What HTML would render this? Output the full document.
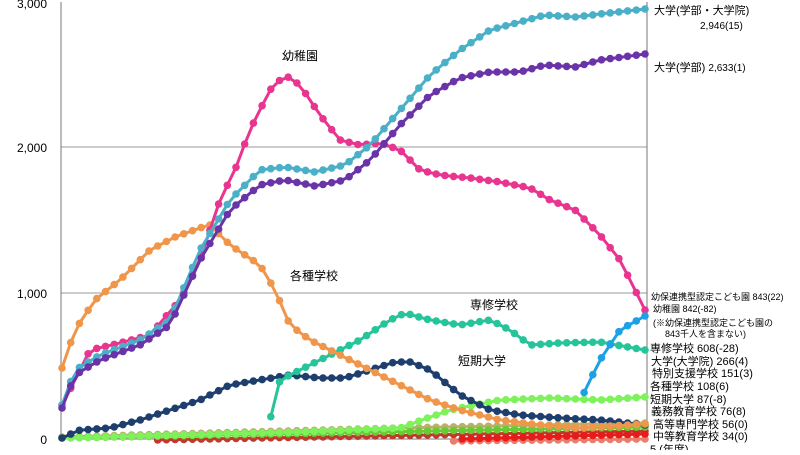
<!DOCTYPE html>
<html><head><meta charset="utf-8"><style>
body{margin:0;background:#fff;width:800px;height:450px;overflow:hidden}
svg text{font-family:"Liberation Sans","Noto Sans CJK JP",sans-serif;fill:#000}
</style></head><body>
<svg id="s" width="800" height="450" xmlns="http://www.w3.org/2000/svg">
<line x1="61" y1="147" x2="647" y2="147" stroke="#999" stroke-width="1"/>
<line x1="61" y1="293" x2="647" y2="293" stroke="#999" stroke-width="1"/>
<line x1="61" y1="2" x2="61" y2="439" stroke="#777"/>
<line x1="647" y1="2" x2="647" y2="439" stroke="#777"/>
<line x1="61" y1="439" x2="647" y2="439" stroke="#777"/>
<g font-size="12" text-anchor="end">
<text x="47" y="8">3,000</text><text x="47" y="152">2,000</text><text x="47" y="298">1,000</text><text x="47" y="444">0</text>
</g>
<g id="series"></g>
<g font-size="12">
<text x="282" y="60">幼稚園</text>
<text x="290" y="280">各種学校</text>
<text x="470" y="309">専修学校</text>
<text x="458" y="365">短期大学</text>
</g>
<g font-size="11">
<text x="654" y="14">大学(学部・大学院)</text>
<text x="700" y="29" font-size="10">2,946(15)</text>
<text x="654" y="71">大学(学部) <tspan font-size="10">2,633(1)</tspan></text>
<text x="651" y="300" font-size="9">幼保連携型認定こども園 843(22)</text>
<text x="653" y="312" font-size="9">幼稚園 842(-82)</text>
<text x="653" y="326" font-size="9">(※幼保連携型認定こども園の</text>
<text x="665" y="337" font-size="9">843千人を含まない)</text>
<text x="650" y="352">専修学校 608(-28)</text>
<text x="651" y="365">大学(大学院) 266(4)</text>
<text x="652" y="377">特別支援学校 151(3)</text>
<text x="650" y="390">各種学校 108(6)</text>
<text x="650" y="403">短期大学 87(-8)</text>
<text x="651" y="415">義務教育学校 76(8)</text>
<text x="653" y="428">高等専門学校 56(0)</text>
<text x="653" y="440">中等教育学校 34(0)</text>
<text x="650" y="453">5 (年度)</text>
</g>
</svg>
<script>
const S=[
["#e87f6c",[[450,441],[645,439]]],
["#c0392b",[[150,440],[645,431]]],
["#e61c1c",[[460,439],[645,434]]],
["#b9b06a",[[62,437],[250,432],[400,428],[645,423]]],
["#66cc33",[[62,438],[645,427]]],
["#7ef25a",[[62,438],[300,432],[400,428],[450,410],[500,400],[550,398],[600,400],[645,397]]],
["#1e3f6e",[[62,438],[80,430],[110,428],[140,420],[170,410],[200,400],[230,385],[260,380],[290,375],[320,378],[345,378],[370,370],[395,362],[410,362],[430,370],[460,395],[490,410],[520,415],[560,418],[600,420],[645,425]]],
["#26c49a",[[270,420],[280,380],[300,370],[330,355],[360,340],[390,320],[405,313],[430,320],[460,325],[490,320],[510,330],[530,345],[560,343],[600,342],[645,350]]],
["#f0964a",[[62,368],[75,330],[95,300],[120,280],[150,250],[175,237],[200,228],[210,225],[230,245],[260,265],[275,290],[290,325],[310,340],[340,355],[370,370],[400,385],[430,400],[460,410],[500,420],[540,425],[580,428],[645,424]]],
["#e8358f",[[62,405],[75,380],[90,350],[120,343],[150,335],[180,300],[200,260],[220,200],[235,170],[250,130],[270,90],[285,75],[300,85],[320,115],[340,140],[360,145],[380,143],[400,150],[420,170],[440,175],[470,178],[500,182],[530,188],[550,200],[575,210],[600,235],[620,260],[645,310]]],
["#4ab0c8",[[62,405],[75,370],[100,355],[140,340],[170,320],[200,250],[230,200],[260,170],[285,167],[315,172],[345,165],[370,145],[400,110],[430,75],[460,50],[490,30],[520,22],[545,15],[575,17],[600,14],[645,9]]],
["#6a34a8",[[62,408],[75,375],[100,360],[140,345],[170,325],[200,260],[230,210],[260,185],[285,180],[315,186],[345,180],[370,160],[400,125],[430,95],[460,78],[490,72],[520,72],[545,65],[575,67],[600,60],[645,54]]],
["#1ea0e6",[[578,405],[600,360],[620,330],[645,316]]]
];
const g=document.getElementById('series');let h='';
const step=583/67;
function val(k,x){for(let i=0;i<k.length-1;i++){if(x>=k[i][0]&&x<=k[i+1][0]){const t=(x-k[i][0])/(k[i+1][0]-k[i][0]);return k[i][1]+t*(k[i+1][1]-k[i][1]);}}return null;}
for(const [c,k] of S){let pts=[];for(let i=0;i<68;i++){const x=62+i*step;if(x<k[0][0]-0.1||x>k[k.length-1][0]+0.1)continue;const y=val(k,Math.min(Math.max(x,k[0][0]),k[k.length-1][0]));pts.push([x,y]);}
h+=`<polyline fill="none" stroke="${c}" stroke-width="3" points="${pts.map(p=>p[0].toFixed(1)+','+p[1].toFixed(1)).join(' ')}"/>`;
for(const p of pts)h+=`<circle cx="${p[0].toFixed(1)}" cy="${p[1].toFixed(1)}" r="3.8" fill="${c}"/>`;}
g.innerHTML=h;
</script>
</body></html>
